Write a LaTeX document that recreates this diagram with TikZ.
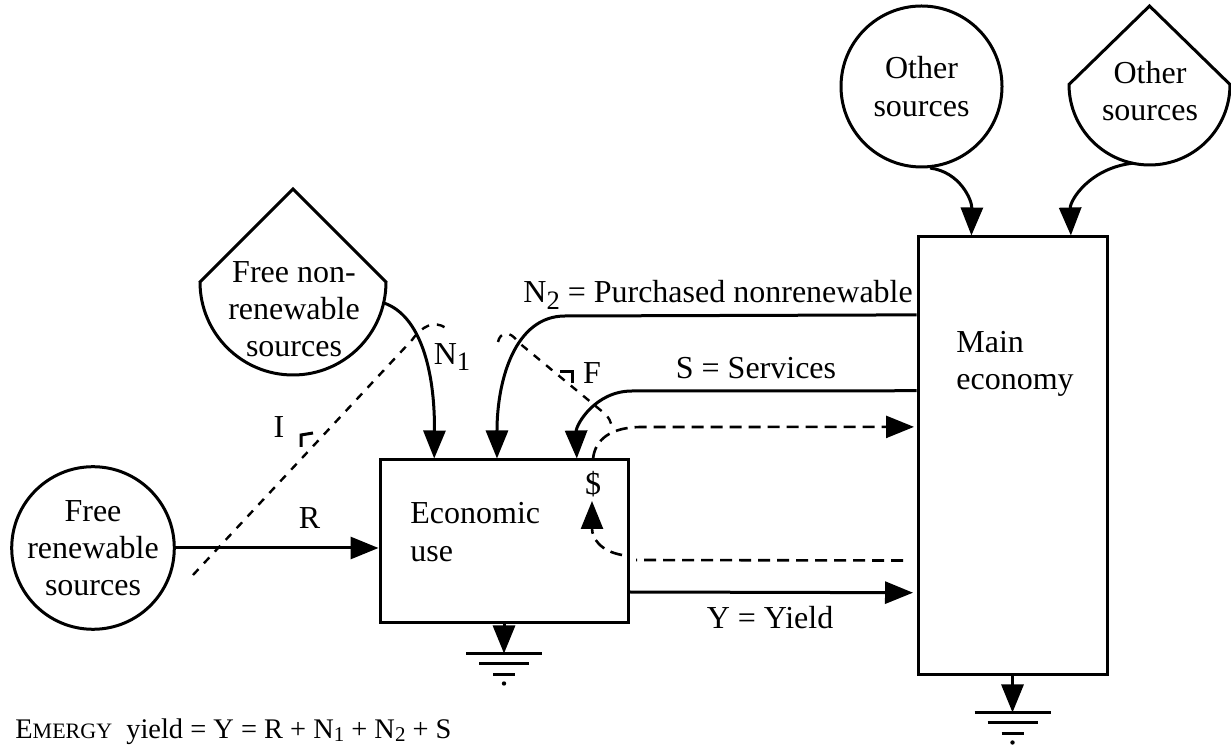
\documentclass[tikz,border=0pt]{standalone}
\usepackage{fontspec}
\setmainfont{Liberation Serif}
\usetikzlibrary{arrows.meta,calc}

% lowered, smaller subscript digit in running text
\newcommand\lowsub[1]{\raisebox{-0.45ex}{\fontsize{13.3}{13}\selectfont #1}}

\begin{document}
\begin{tikzpicture}[x=0.5pt,y=-0.5pt,
  every node/.style={font=\fontsize{16}{18.6}\selectfont, inner sep=0pt},
  flow/.style={line width=1.5pt},
  tip/.style={-{Triangle[width=11pt,length=14pt]}},
  money/.style={line width=1.3pt, dash pattern=on 6pt off 3.5pt},
  info/.style={line width=1.2pt, dash pattern=on 4pt off 4pt},
  gate/.style={line width=1.5pt},
  box/.style={draw, line width=1.5pt},
  src/.style={draw, circle, line width=1.5pt, minimum size=80.5pt, align=center},
  gline/.style={line width=1.5pt},
  earth/.pic={
    \draw[gline] (-38,0) -- (38,0);
    \draw[gline] (-25,10.5) -- (25,10.5);
    \draw[gline] (-11,21) -- (11,21);
    \fill (0,30) circle[radius=2.2];
  }
]
\useasboundingbox (0,0) rectangle (1231,747);

% ---- storages / sources ----
\node[src] (fr) at (93,548) {Free\\renewable\\sources};
\node[src] (os) at (921.5,86.5) {Other\\sources};

% tank-shaped sources (pointed top, round bottom)
\draw[line width=1.5pt] (200,282) -- (293,189) -- (386,282)
   arc[start angle=0, end angle=180, radius=93] -- cycle;
\node[align=center] (fnr) at (294,309) {Free non-\\renewable\\sources};
\coordinate (fnrout) at (383.6,302.9);

\draw[line width=1.5pt] (1069,84.5) -- (1149.5,6) -- (1230,84.5)
   arc[start angle=0, end angle=180, radius=80.5] -- cycle;
\node[align=center] (os2) at (1150,91) {Other\\sources};
\coordinate (os2out) at (1132.8,163.2);

% ---- processes ----
\node[box, minimum width=124pt, minimum height=81.5pt] (econ) at (504,541.5) {};
\node[anchor=west, align=left] (econlbl) at (410,532) {Economic\\use};

\node[box, minimum width=94.5pt, minimum height=219pt] (main) at (1012.5,456) {};
\node[anchor=west, align=left] (mainlbl) at (956,364) {Main\\economy};

% attachment points along the box edges
\coordinate (eN1) at ($(econ.north west)!0.222!(econ.north east)$);
\coordinate (eN2) at ($(econ.north west)!0.472!(econ.north east)$);
\coordinate (eS)  at ($(econ.north west)!0.790!(econ.north east)$);
\coordinate (eD)  at ($(econ.north west)!0.855!(econ.north east)$);
\coordinate (mN2) at ($(main.north west)!0.180!(main.south west)$);
\coordinate (mS)  at ($(main.north west)!0.352!(main.south west)$);
\coordinate (mD)  at ($(main.north west)!0.434!(main.south west)$);
\coordinate (mR)  at ($(main.north west)!0.737!(main.south west)$);
\coordinate (mY)  at ($(main.north west)!0.810!(main.south west)$);
\coordinate (mT1) at ($(main.north west)!0.286!(main.north east)$);
\coordinate (mT2) at ($(main.north west)!0.804!(main.north east)$);

% ---- energy flows ----
\draw[flow,tip] (fr.east) -- (fr.east -| econ.west) node[pos=0.66, above=9pt] (rl) {R};
\draw[flow,tip] (fnrout) .. controls (420,315) and (435,370) .. (eN1);
\node (n1l) at (452,357) {N\lowsub1};

\draw[flow,tip] (mN2) -- (565,316) .. controls (515,316) and (497,380) .. (eN2);
\node[anchor=base west] (n2l) at (523,303) {N\lowsub2 = Purchased nonrenewable};

\draw[flow,tip] (mS) -- (632,391) .. controls (595,391) and (576,425) .. (eS);
\node (sl) at (756,368) {S = Services};

\draw[flow,tip] (econ.east |- 0,592) coordinate (yst) -- (mY -| 913,0);
\node (yl) at (770,618) {Y = Yield};

\draw[flow,tip] (os.-84) .. controls (960,172) and (972,200) .. (mT1);
\draw[flow,tip] (os2out) .. controls (1090,168) and (1070,200) .. (mT2);

% ---- money flows ----
\draw[money,tip] (eD) .. controls (595,440) and (610,427) .. (642,427) -- (mD -| 914,0);
\node (dl) at (593,484) {\$};
\draw[money] (mR -| 903,0) -- (636,560);
\draw[money,tip] (622,555) .. controls (600,551) and (592,538) .. (592,501);

% ---- information lines with gates ----
\draw[info] (193,575) -- (412,340) .. controls (422,326) and (434,320) .. (446,328);
\draw[gate] (301,447) -- (301,435) -- (313,433);
\node (il) at (279,427) {I};

\draw[info] (498,342) .. controls (500,332) and (510,330) .. (518,342) -- (604,413)
   .. controls (609,417) and (611,422) .. (612,428);
\draw[gate] (560,372) -- (572,372) -- (572,383);
\node (fl) at (592,373) {F};

% ---- heat sinks ----
\draw[flow,tip] (econ.south) -- ++(0,29) coordinate (g1);
\pic at (g1) {earth};
\draw[flow,tip] (main.south) -- ++(0,36) coordinate (g2);
\pic at (g2) {earth};

% ---- yield relation ----
\node[anchor=base west, font=\fontsize{14.2}{16}\selectfont] (eq) at (15,739)
  {E{\fontsize{11}{11}\selectfont MERGY}\ \ yield = Y = R + N{\fontsize{10.5}{10}\selectfont\raisebox{-0.3ex}{1}} + N{\fontsize{10.5}{10}\selectfont\raisebox{-0.3ex}{2}} + S};
\end{tikzpicture}
\end{document}
